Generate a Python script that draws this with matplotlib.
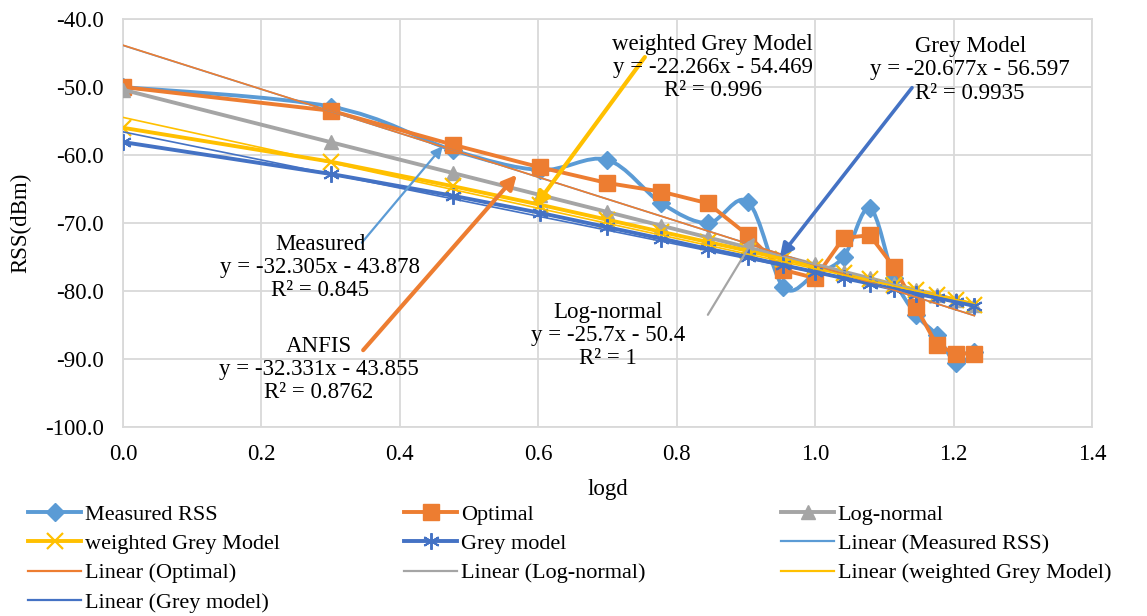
import numpy as np
import matplotlib
matplotlib.use("Agg")
import matplotlib.pyplot as plt
from matplotlib.path import Path
from matplotlib.patches import PathPatch
from matplotlib.lines import Line2D

plt.rcParams["font.family"] = ["Liberation Serif", "DejaVu Serif"]

# log10 of the distance (m), 1..17
logd = [0.0, 0.301, 0.477, 0.602, 0.699, 0.778, 0.845, 0.903, 0.954,
        1.0, 1.041, 1.079, 1.114, 1.146, 1.176, 1.204, 1.230]

measured = [-50.0, -52.9, -59.3, -62.2, -60.7, -67.1, -70.0, -66.9, -79.4,
            -77.5, -75.0, -67.8, -78.1, -83.5, -86.5, -90.6, -89.0]
optimal = [-50.0, -53.5, -58.5, -61.8, -64.1, -65.4, -67.1, -71.8, -76.9,
           -78.1, -72.2, -71.8, -76.5, -82.4, -88.0, -89.2, -89.2]
log_normal = [-50.4, -58.14, -62.66, -65.87, -68.36, -70.40, -72.12, -73.61,
              -74.92, -76.1, -77.16, -78.13, -79.03, -79.86, -80.62, -81.35, -82.02]
weighted_grey = [-56.0, -61.0, -64.6, -67.3, -69.5, -71.3, -72.8, -74.1, -75.3,
                 -76.4, -77.4, -78.3, -79.1, -79.9, -80.6, -81.3, -82.0]
grey = [-58.1, -62.8, -66.0, -68.5, -70.6, -72.3, -73.8, -75.0, -76.2,
        -77.2, -78.1, -78.9, -79.7, -80.4, -81.0, -81.6, -82.2]

# linear trend lines (slope, intercept) as reported
trend_slopes = [-32.305, -32.331, -25.7, -22.266, -20.677]
trend_intercepts = [-43.878, -43.855, -50.4, -54.469, -56.597]

series_names = ["Measured RSS", "Optimal", "Log-normal", "weighted Grey Model", "Grey model"]
colors = ["#5B9BD5", "#ED7D31", "#A5A5A5", "#FFC000", "#4472C4"]

x_ticks = [0.0, 0.2, 0.4, 0.6, 0.8, 1.0, 1.2, 1.4]
y_ticks = [-100, -90, -80, -70, -60, -50, -40]

fs = 16.5
fs_leg = 16

W, H = 1147, 616
fig = plt.figure(figsize=(W / 100, H / 100), dpi=100)
ax = fig.add_axes([123 / W, 1 - 427 / H, (1092 - 123) / W, 408 / H])
ax.set_xlim(0, 1.4)
ax.set_ylim(-100, -40)
ax.set_xticks(x_ticks)
ax.set_yticks(y_ticks)
ax.set_xticklabels([f"{v:.1f}" for v in x_ticks])
ax.set_yticklabels([f"{v:.1f}" for v in y_ticks])
ax.tick_params(length=0, labelsize=fs, colors="black")
ax.tick_params(axis="x", pad=12)
ax.tick_params(axis="y", pad=14)
ax.grid(True, color="#D9D9D9", linewidth=1.3)
ax.set_axisbelow(True)
for sp in ax.spines.values():
    sp.set_color("#D9D9D9")
    sp.set_linewidth(1.3)

ax.set_xlabel("logd", fontsize=fs)
ax.set_ylabel("RSS(dBm)", fontsize=fs)
ax.xaxis.set_label_coords(0.5, -0.152)
ax.xaxis.label.set_va("center")
ax.yaxis.set_label_coords((21 - 123) / 969, 0.5)
ax.yaxis.label.set_va("center")


def smooth_path(xs, ys):
    """Catmull-Rom style Bezier through the points (Excel smoothed line)."""
    p = np.column_stack([xs, ys]).astype(float)
    n = len(p)
    verts = [p[0]]
    codes = [Path.MOVETO]
    for i in range(n - 1):
        p0 = p[i - 1] if i > 0 else p[i]
        p1, p2 = p[i], p[i + 1]
        p3 = p[i + 2] if i + 2 < n else p[i + 1]
        c1 = p1 + (p2 - p0) / 6.0
        c2 = p2 - (p3 - p1) / 6.0
        verts += [c1, c2, p2]
        codes += [Path.CURVE4] * 3
    return Path(verts, codes)


lw_main = 2.8
markers = [
    dict(marker="D", ms=9),
    dict(marker="s", ms=12),
    dict(marker="^", ms=10.5),
    dict(marker="x", ms=11, mew=1.6),
    dict(marker=(6, 2, 0), ms=12, mew=1.4),
]
data = [measured, optimal, log_normal, weighted_grey, grey]

handles = []
for k, (ys, c, mk) in enumerate(zip(data, colors, markers)):
    z = 3 + k
    if k == 0:
        ax.add_patch(PathPatch(smooth_path(logd, ys), fill=False, edgecolor=c,
                               linewidth=lw_main, zorder=z, capstyle="round",
                               joinstyle="round"))
        ax.plot(logd, ys, linestyle="none", color=c, zorder=z, **mk)
    else:
        ax.plot(logd, ys, color=c, linewidth=lw_main, zorder=z, **mk)
    handles.append(Line2D([], [], color=c, linewidth=lw_main, **mk))

x_line = np.array([logd[0], logd[-1]])
trend_handles = []
for k, (m, b, c) in enumerate(zip(trend_slopes, trend_intercepts, colors)):
    ax.plot(x_line, m * x_line + b, color=c, linewidth=1.2, zorder=9)
    trend_handles.append(Line2D([], [], color=c, linewidth=1.6))

# equation call-outs
callouts = [
    ("Measured\ny = -32.305x - 43.878\nR\u00b2 = 0.845", (0.285, -76.5),
     (0.345, -72.9), (0.462, -58.7), colors[0], 1.6),
    ("ANFIS\ny = -32.331x - 43.855\nR\u00b2 = 0.8762", (0.283, -91.5),
     (0.347, -88.7), (0.569, -62.9), colors[1], 3.0),
    ("weighted Grey Model\ny = -22.266x - 54.469\nR\u00b2 = 0.996", (0.852, -47.1),
     (0.754, -45.6), (0.595, -67.6), colors[3], 3.0),
    ("Grey Model\ny = -20.677x - 56.597\nR\u00b2 = 0.9935", (1.224, -47.5),
     (1.140, -50.1), (0.949, -75.0), colors[4], 2.6),
    ("Log-normal\ny = -25.7x - 50.4\nR\u00b2 = 1", (0.701, -86.5),
     (0.845, -83.5), (0.913, -72.1), colors[2], 1.6),
]
for txt, tpos, tail, head, c, lw in callouts:
    ax.text(tpos[0], tpos[1], txt, ha="center", va="center", fontsize=fs,
            multialignment="center", linespacing=1.13, zorder=12, clip_on=False)
    ax.annotate("", xy=head, xytext=tail,
                arrowprops=dict(arrowstyle="-|>", color=c, lw=lw,
                                mutation_scale=12 + 3 * lw, shrinkA=0, shrinkB=0),
                zorder=11)

# legend in three columns, filled row by row
all_handles = handles + trend_handles
all_labels = series_names + ["Linear (Measured RSS)", "Linear (Optimal)",
                             "Linear (Log-normal)", "Linear (weighted Grey Model)",
                             "Linear (Grey model)"]
col_x = [28, 404, 781]
for col in range(3):
    idx = list(range(col, len(all_handles), 3))
    fig.legend([all_handles[i] for i in idx], [all_labels[i] for i in idx],
               loc="upper left", bbox_to_anchor=(col_x[col] / W, 1 - 504 / H),
               frameon=False, fontsize=fs_leg, handlelength=2.4, handletextpad=0.15,
               borderpad=0, borderaxespad=0, labelspacing=0.4)

fig.savefig("out.png", dpi=100)
